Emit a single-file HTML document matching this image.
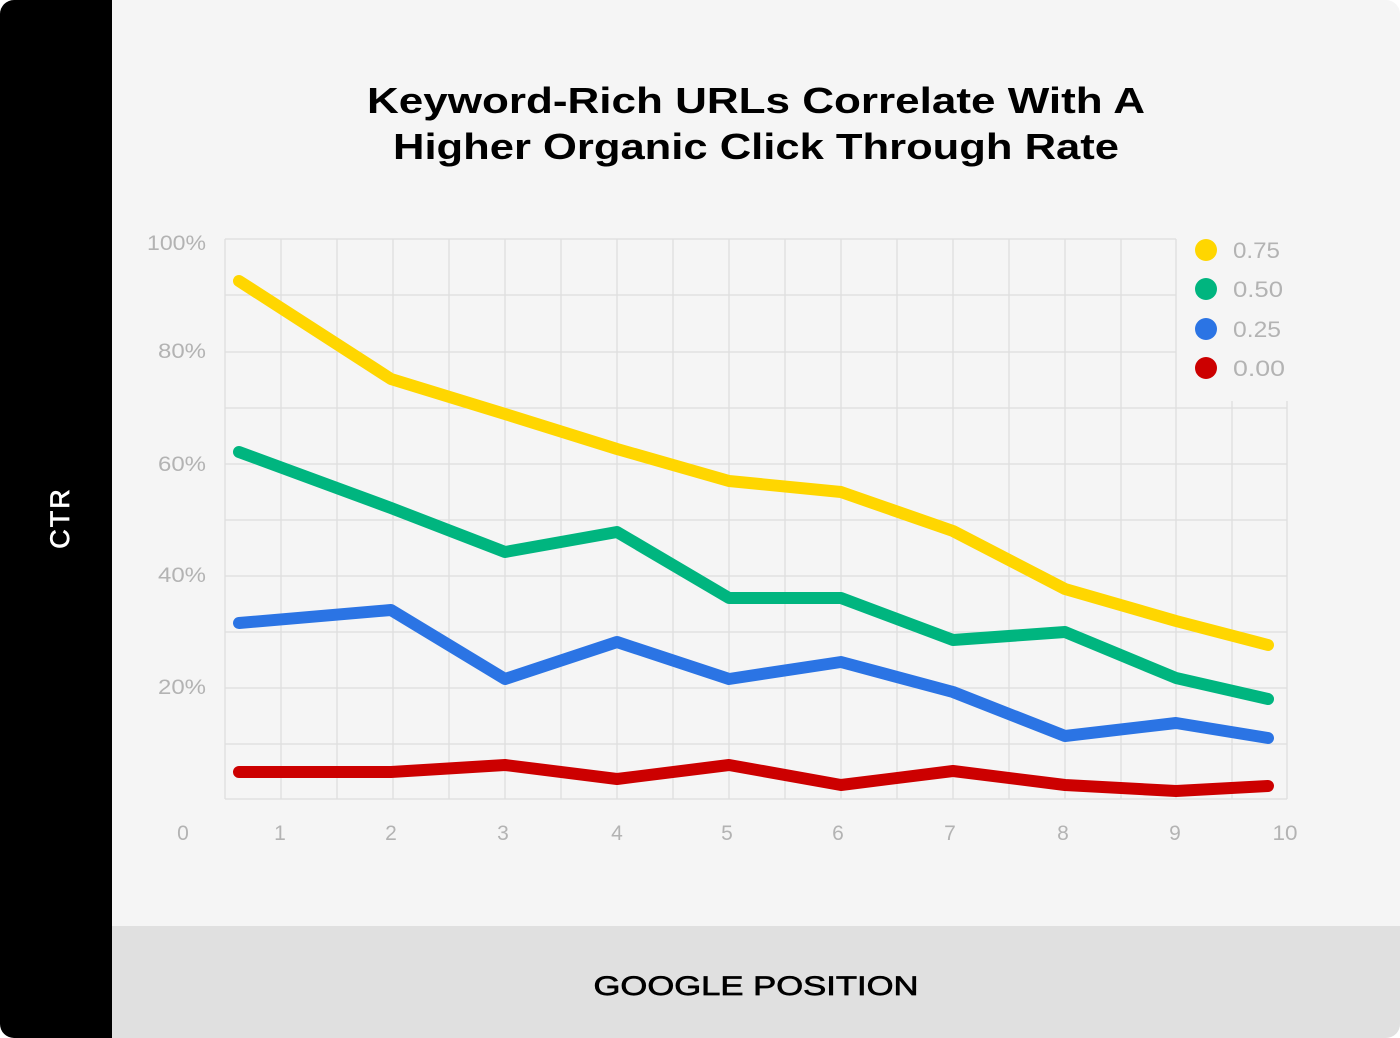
<!DOCTYPE html>
<html><head><meta charset="utf-8"><style>
html,body{margin:0;padding:0;background:#fff;}
svg{display:block;}
</style></head><body>
<svg width="1400" height="1038" viewBox="0 0 1400 1038" xmlns="http://www.w3.org/2000/svg" font-family="'Liberation Sans', sans-serif">
<defs><clipPath id="c"><rect x="0" y="0" width="1400" height="1038" rx="14"/></clipPath></defs>
<g clip-path="url(#c)">
<rect width="1400" height="1038" fill="#f5f5f5"/>
<rect x="0" y="0" width="112" height="1038" fill="#000"/>
<rect x="112" y="926" width="1288" height="112" fill="#e0e0e0"/>
</g>
<text x="756" y="113" text-anchor="middle" font-size="36" font-weight="bold" textLength="778" lengthAdjust="spacingAndGlyphs">Keyword-Rich URLs Correlate With A</text>
<text x="756" y="159" text-anchor="middle" font-size="36" font-weight="bold" textLength="726" lengthAdjust="spacingAndGlyphs">Higher Organic Click Through Rate</text>
<text transform="translate(69,518) rotate(-90)" text-anchor="middle" font-size="27" fill="#fff" stroke="#fff" stroke-width="0.7" letter-spacing="2">CTR</text>
<text x="756" y="995" text-anchor="middle" font-size="27" fill="#000" stroke="#000" stroke-width="0.7" textLength="325" lengthAdjust="spacingAndGlyphs">GOOGLE POSITION</text>
<g stroke="#dedede" stroke-width="1.3" fill="none">
<path d="M225 239H1176M225 295H1176M225 352H1176M225 408H1287M225 464H1287M225 520H1287M225 576H1287M225 632H1287M225 688H1287M225 744H1287M225 799H1287"/>
<path d="M225 239V799M281 239V799M337 239V799M393 239V799M449 239V799M505 239V799M561 239V799M617 239V799M673 239V799M729 239V799M785 239V799M841 239V799M897 239V799M953 239V799M1009 239V799M1065 239V799M1121 239V799M1176 239V799M1232 401V799M1287 401V799"/>
</g>
<g font-size="21" fill="#b3b3b3" text-anchor="end">
<text x="206" y="250" textLength="59" lengthAdjust="spacingAndGlyphs">100%</text>
<text x="206" y="358" textLength="48" lengthAdjust="spacingAndGlyphs">80%</text>
<text x="206" y="471" textLength="48" lengthAdjust="spacingAndGlyphs">60%</text>
<text x="206" y="582" textLength="48" lengthAdjust="spacingAndGlyphs">40%</text>
<text x="206" y="694" textLength="48" lengthAdjust="spacingAndGlyphs">20%</text>
</g>
<g font-size="21" fill="#b3b3b3" text-anchor="middle">
<text x="183" y="840">0</text><text x="280" y="840">1</text><text x="391" y="840">2</text><text x="503" y="840">3</text><text x="617" y="840">4</text><text x="727" y="840">5</text><text x="838" y="840">6</text><text x="950" y="840">7</text><text x="1063" y="840">8</text><text x="1175" y="840">9</text><text x="1285" y="840" textLength="25" lengthAdjust="spacingAndGlyphs">10</text>
</g>
<g fill="none" stroke-width="12" stroke-linecap="round" stroke-linejoin="round">
<polyline stroke="#cc0000" points="239,772 391,772 505,765 617,779 729,765 841,785 953,771 1065,785 1176,791 1268,786"/>
<polyline stroke="#2b74e4" points="239,623 391,610 505,679 617,642 729,679 841,662 953,692 1065,736 1176,723 1268,738"/>
<polyline stroke="#00b57f" points="239,452 391,508 505,552 617,532 729,598 841,598 953,640 1065,632 1176,678 1268,699"/>
<polyline stroke="#ffd600" points="239,281 391,379 505,414 617,449 729,481 841,492 953,531 1065,589 1176,621 1268,645"/>
</g>
<circle cx="1206" cy="250" r="11" fill="#ffd600"/>
<circle cx="1206" cy="289" r="11" fill="#00b57f"/>
<circle cx="1206" cy="329" r="11" fill="#2b74e4"/>
<circle cx="1206" cy="368" r="11" fill="#cc0000"/>
<g font-size="22" fill="#b3b3b3">
<text x="1233" y="258" textLength="47" lengthAdjust="spacingAndGlyphs">0.75</text>
<text x="1233" y="297" textLength="50" lengthAdjust="spacingAndGlyphs">0.50</text>
<text x="1233" y="337" textLength="48" lengthAdjust="spacingAndGlyphs">0.25</text>
<text x="1233" y="376" textLength="52" lengthAdjust="spacingAndGlyphs">0.00</text>
</g>
</svg>
</body></html>
